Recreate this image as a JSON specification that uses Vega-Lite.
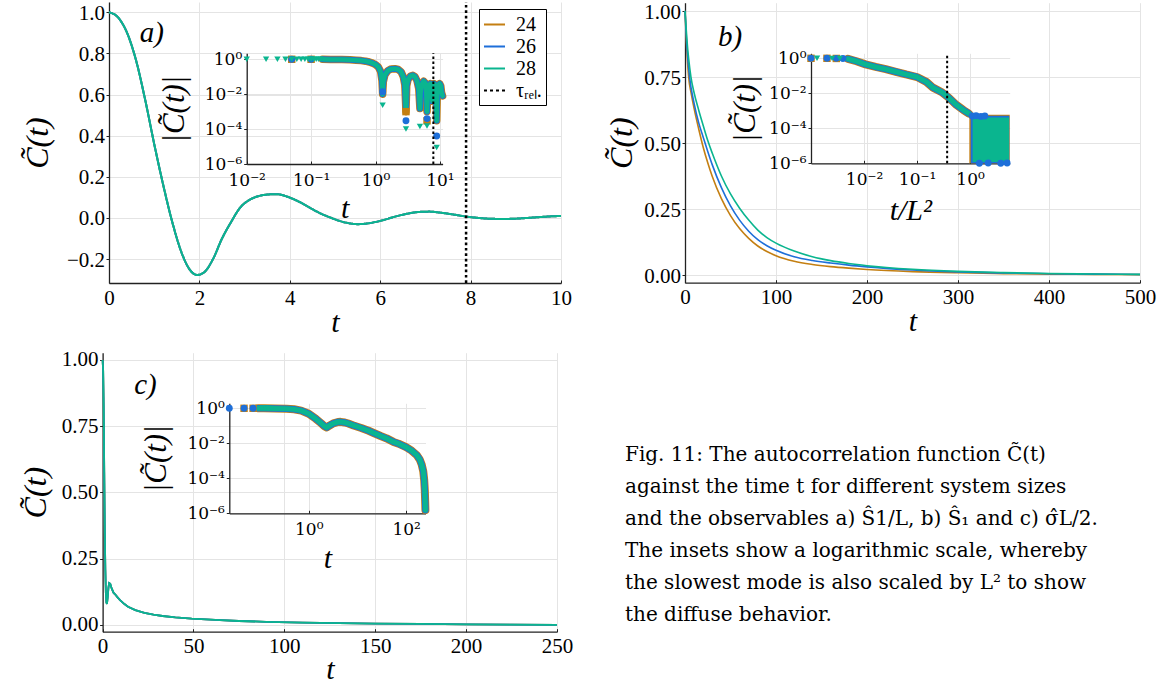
{
"$schema":"https://vega.github.io/schema/vega-lite/v6.json",
"width":1161,"height":691,"padding":0,"autosize":"none","background":"white",
"config":{"view":{"stroke":null},
 "axis":{"labelFont":"Liberation Serif","labelFontSize":21,"labelColor":"#000","titleFont":"Liberation Serif","titleFontStyle":"italic","titleFontWeight":"normal","titleColor":"#000","domainColor":"#222","domainWidth":1.3,"tickColor":"#222","tickSize":3,"gridColor":"#e4e4e4","gridWidth":1,"labelPadding":1.5,"labelFlush":false,"labelOverlap":false}},
"resolve":{"scale":{"x":"independent","y":"independent"},"axis":{"x":"independent","y":"independent"}},
"datasets":{
"a_main":[
{"s":"24","t":0,"v":1},{"s":"24","t":0.2,"v":0.975},{"s":"24","t":0.4,"v":0.9},{"s":"24","t":0.6,"v":0.765},{"s":"24","t":0.8,"v":0.575},{"s":"24","t":1,"v":0.36},{"s":"24","t":1.2,"v":0.16},{"s":"24","t":1.4,"v":-0.02},{"s":"24","t":1.6,"v":-0.165},{"s":"24","t":1.8,"v":-0.255},{"s":"24","t":1.95,"v":-0.277},{"s":"24","t":2.1,"v":-0.265},{"s":"24","t":2.3,"v":-0.2},{"s":"24","t":2.5,"v":-0.1},{"s":"24","t":2.7,"v":-0.02},{"s":"24","t":2.9,"v":0.05},{"s":"24","t":3.1,"v":0.087},{"s":"24","t":3.3,"v":0.106},{"s":"24","t":3.5,"v":0.114},{"s":"24","t":3.7,"v":0.116},{"s":"24","t":3.9,"v":0.107},{"s":"24","t":4.1,"v":0.09},{"s":"24","t":4.3,"v":0.068},{"s":"24","t":4.5,"v":0.043},{"s":"24","t":4.7,"v":0.02},{"s":"24","t":4.9,"v":0.002},{"s":"24","t":5.1,"v":-0.014},{"s":"24","t":5.3,"v":-0.025},{"s":"24","t":5.5,"v":-0.03},{"s":"24","t":5.7,"v":-0.027},{"s":"24","t":5.9,"v":-0.019},{"s":"24","t":6.1,"v":-0.008},{"s":"24","t":6.3,"v":0.005},{"s":"24","t":6.5,"v":0.016},{"s":"24","t":6.7,"v":0.025},{"s":"24","t":6.9,"v":0.03},{"s":"24","t":7.1,"v":0.031},{"s":"24","t":7.3,"v":0.027},{"s":"24","t":7.5,"v":0.021},{"s":"24","t":7.7,"v":0.014},{"s":"24","t":7.9,"v":0.007},{"s":"24","t":8.1,"v":0.002},{"s":"24","t":8.3,"v":-0.002},{"s":"24","t":8.5,"v":-0.004},{"s":"24","t":8.7,"v":-0.005},{"s":"24","t":8.9,"v":-0.004},{"s":"24","t":9.1,"v":-0.002},{"s":"24","t":9.3,"v":0.001},{"s":"24","t":9.5,"v":0.004},{"s":"24","t":9.7,"v":0.007},{"s":"24","t":10,"v":0.01},
{"s":"26","t":0,"v":1},{"s":"26","t":0.2,"v":0.975},{"s":"26","t":0.4,"v":0.9},{"s":"26","t":0.6,"v":0.765},{"s":"26","t":0.8,"v":0.575},{"s":"26","t":1,"v":0.36},{"s":"26","t":1.2,"v":0.16},{"s":"26","t":1.4,"v":-0.02},{"s":"26","t":1.6,"v":-0.165},{"s":"26","t":1.8,"v":-0.255},{"s":"26","t":1.95,"v":-0.277},{"s":"26","t":2.1,"v":-0.265},{"s":"26","t":2.3,"v":-0.2},{"s":"26","t":2.5,"v":-0.1},{"s":"26","t":2.7,"v":-0.02},{"s":"26","t":2.9,"v":0.05},{"s":"26","t":3.1,"v":0.087},{"s":"26","t":3.3,"v":0.106},{"s":"26","t":3.5,"v":0.114},{"s":"26","t":3.7,"v":0.116},{"s":"26","t":3.9,"v":0.107},{"s":"26","t":4.1,"v":0.09},{"s":"26","t":4.3,"v":0.068},{"s":"26","t":4.5,"v":0.043},{"s":"26","t":4.7,"v":0.02},{"s":"26","t":4.9,"v":0.002},{"s":"26","t":5.1,"v":-0.014},{"s":"26","t":5.3,"v":-0.025},{"s":"26","t":5.5,"v":-0.03},{"s":"26","t":5.7,"v":-0.027},{"s":"26","t":5.9,"v":-0.019},{"s":"26","t":6.1,"v":-0.008},{"s":"26","t":6.3,"v":0.005},{"s":"26","t":6.5,"v":0.016},{"s":"26","t":6.7,"v":0.025},{"s":"26","t":6.9,"v":0.03},{"s":"26","t":7.1,"v":0.031},{"s":"26","t":7.3,"v":0.027},{"s":"26","t":7.5,"v":0.021},{"s":"26","t":7.7,"v":0.014},{"s":"26","t":7.9,"v":0.007},{"s":"26","t":8.1,"v":0.002},{"s":"26","t":8.3,"v":-0.002},{"s":"26","t":8.5,"v":-0.004},{"s":"26","t":8.7,"v":-0.005},{"s":"26","t":8.9,"v":-0.004},{"s":"26","t":9.1,"v":-0.002},{"s":"26","t":9.3,"v":0.001},{"s":"26","t":9.5,"v":0.004},{"s":"26","t":9.7,"v":0.007},{"s":"26","t":10,"v":0.01},
{"s":"28","t":0,"v":1},{"s":"28","t":0.2,"v":0.975},{"s":"28","t":0.4,"v":0.9},{"s":"28","t":0.6,"v":0.765},{"s":"28","t":0.8,"v":0.575},{"s":"28","t":1,"v":0.36},{"s":"28","t":1.2,"v":0.16},{"s":"28","t":1.4,"v":-0.02},{"s":"28","t":1.6,"v":-0.165},{"s":"28","t":1.8,"v":-0.255},{"s":"28","t":1.95,"v":-0.277},{"s":"28","t":2.1,"v":-0.265},{"s":"28","t":2.3,"v":-0.2},{"s":"28","t":2.5,"v":-0.1},{"s":"28","t":2.7,"v":-0.02},{"s":"28","t":2.9,"v":0.05},{"s":"28","t":3.1,"v":0.087},{"s":"28","t":3.3,"v":0.106},{"s":"28","t":3.5,"v":0.114},{"s":"28","t":3.7,"v":0.116},{"s":"28","t":3.9,"v":0.107},{"s":"28","t":4.1,"v":0.09},{"s":"28","t":4.3,"v":0.068},{"s":"28","t":4.5,"v":0.043},{"s":"28","t":4.7,"v":0.02},{"s":"28","t":4.9,"v":0.002},{"s":"28","t":5.1,"v":-0.014},{"s":"28","t":5.3,"v":-0.025},{"s":"28","t":5.5,"v":-0.03},{"s":"28","t":5.7,"v":-0.027},{"s":"28","t":5.9,"v":-0.019},{"s":"28","t":6.1,"v":-0.008},{"s":"28","t":6.3,"v":0.005},{"s":"28","t":6.5,"v":0.016},{"s":"28","t":6.7,"v":0.025},{"s":"28","t":6.9,"v":0.03},{"s":"28","t":7.1,"v":0.031},{"s":"28","t":7.3,"v":0.027},{"s":"28","t":7.5,"v":0.021},{"s":"28","t":7.7,"v":0.014},{"s":"28","t":7.9,"v":0.007},{"s":"28","t":8.1,"v":0.002},{"s":"28","t":8.3,"v":-0.002},{"s":"28","t":8.5,"v":-0.004},{"s":"28","t":8.7,"v":-0.005},{"s":"28","t":8.9,"v":-0.004},{"s":"28","t":9.1,"v":-0.002},{"s":"28","t":9.3,"v":0.001},{"s":"28","t":9.5,"v":0.004},{"s":"28","t":9.7,"v":0.007},{"s":"28","t":10,"v":0.01}
],
"a_tau":[{"tau":7.9}],
"b_tau":[{"tau":0.37}],
"lab_a":[{"lab":"a)"}],"lab_b":[{"lab":"b)"}],"lab_c":[{"lab":"c)"}],
"b_main":[
{"s":"24","t":0,"v":1},{"s":"24","t":2,"v":0.852},{"s":"24","t":4,"v":0.75},{"s":"24","t":7,"v":0.684},{"s":"24","t":10,"v":0.631},{"s":"24","t":15,"v":0.554},{"s":"24","t":20,"v":0.484},{"s":"24","t":25,"v":0.425},{"s":"24","t":30,"v":0.373},{"s":"24","t":40,"v":0.289},{"s":"24","t":50,"v":0.225},{"s":"24","t":60,"v":0.176},{"s":"24","t":70,"v":0.139},{"s":"24","t":80,"v":0.11},{"s":"24","t":90,"v":0.089},{"s":"24","t":100,"v":0.073},{"s":"24","t":120,"v":0.052},{"s":"24","t":140,"v":0.04},{"s":"24","t":160,"v":0.032},{"s":"24","t":180,"v":0.026},{"s":"24","t":200,"v":0.021},{"s":"24","t":250,"v":0.013},{"s":"24","t":300,"v":0.0085},{"s":"24","t":350,"v":0.0055},{"s":"24","t":400,"v":0.0036},{"s":"24","t":450,"v":0.0024},{"s":"24","t":500,"v":0.0016},
{"s":"26","t":0,"v":1},{"s":"26","t":2,"v":0.869},{"s":"26","t":5,"v":0.75},{"s":"26","t":10,"v":0.65},{"s":"26","t":15,"v":0.577},{"s":"26","t":20,"v":0.522},{"s":"26","t":25,"v":0.468},{"s":"26","t":30,"v":0.417},{"s":"26","t":40,"v":0.331},{"s":"26","t":50,"v":0.262},{"s":"26","t":60,"v":0.208},{"s":"26","t":70,"v":0.166},{"s":"26","t":80,"v":0.134},{"s":"26","t":90,"v":0.111},{"s":"26","t":100,"v":0.0935},{"s":"26","t":120,"v":0.069},{"s":"26","t":140,"v":0.055},{"s":"26","t":160,"v":0.0455},{"s":"26","t":180,"v":0.0375},{"s":"26","t":200,"v":0.031},{"s":"26","t":250,"v":0.019},{"s":"26","t":300,"v":0.012},{"s":"26","t":350,"v":0.0078},{"s":"26","t":400,"v":0.0051},{"s":"26","t":450,"v":0.0034},{"s":"26","t":500,"v":0.0023},
{"s":"28","t":0,"v":1},{"s":"28","t":2,"v":0.896},{"s":"28","t":6.5,"v":0.75},{"s":"28","t":10,"v":0.69},{"s":"28","t":15,"v":0.625},{"s":"28","t":20,"v":0.566},{"s":"28","t":25,"v":0.509},{"s":"28","t":30,"v":0.461},{"s":"28","t":40,"v":0.375},{"s":"28","t":50,"v":0.307},{"s":"28","t":60,"v":0.253},{"s":"28","t":70,"v":0.208},{"s":"28","t":80,"v":0.17},{"s":"28","t":90,"v":0.142},{"s":"28","t":100,"v":0.121},{"s":"28","t":120,"v":0.0907},{"s":"28","t":140,"v":0.0693},{"s":"28","t":160,"v":0.0545},{"s":"28","t":180,"v":0.0437},{"s":"28","t":200,"v":0.0354},{"s":"28","t":250,"v":0.0219},{"s":"28","t":300,"v":0.014},{"s":"28","t":350,"v":0.0091},{"s":"28","t":400,"v":0.006},{"s":"28","t":450,"v":0.004},{"s":"28","t":500,"v":0.0027}
],
"c_main":[
{"s":"24","t":0,"v":1},{"s":"24","t":0.3,"v":0.96},{"s":"24","t":0.6,"v":0.82},{"s":"24","t":0.9,"v":0.58},{"s":"24","t":1.2,"v":0.36},{"s":"24","t":1.5,"v":0.21},{"s":"24","t":1.8,"v":0.12},{"s":"24","t":2.1,"v":0.085},{"s":"24","t":2.4,"v":0.08},{"s":"24","t":2.8,"v":0.105},{"s":"24","t":3.2,"v":0.14},{"s":"24","t":3.6,"v":0.158},{"s":"24","t":4.2,"v":0.155},{"s":"24","t":5,"v":0.138},{"s":"24","t":6,"v":0.122},{"s":"24","t":7,"v":0.115},{"s":"24","t":8,"v":0.106},{"s":"24","t":9.6,"v":0.094},{"s":"24","t":12,"v":0.079},{"s":"24","t":14,"v":0.069},{"s":"24","t":18,"v":0.056},{"s":"24","t":23,"v":0.046},{"s":"24","t":28,"v":0.039},{"s":"24","t":33,"v":0.034},{"s":"24","t":40,"v":0.029},{"s":"24","t":49,"v":0.024},{"s":"24","t":62,"v":0.019},{"s":"24","t":75,"v":0.015},{"s":"24","t":90,"v":0.012},{"s":"24","t":110,"v":0.009},{"s":"24","t":130,"v":0.007},{"s":"24","t":150,"v":0.0055},{"s":"24","t":175,"v":0.004},{"s":"24","t":200,"v":0.0025},{"s":"24","t":225,"v":0.0012},{"s":"24","t":250,"v":0.0002},
{"s":"26","t":0,"v":1},{"s":"26","t":0.3,"v":0.96},{"s":"26","t":0.6,"v":0.82},{"s":"26","t":0.9,"v":0.58},{"s":"26","t":1.2,"v":0.36},{"s":"26","t":1.5,"v":0.21},{"s":"26","t":1.8,"v":0.12},{"s":"26","t":2.1,"v":0.085},{"s":"26","t":2.4,"v":0.08},{"s":"26","t":2.8,"v":0.105},{"s":"26","t":3.2,"v":0.14},{"s":"26","t":3.6,"v":0.158},{"s":"26","t":4.2,"v":0.155},{"s":"26","t":5,"v":0.138},{"s":"26","t":6,"v":0.122},{"s":"26","t":7,"v":0.115},{"s":"26","t":8,"v":0.106},{"s":"26","t":9.6,"v":0.094},{"s":"26","t":12,"v":0.079},{"s":"26","t":14,"v":0.069},{"s":"26","t":18,"v":0.056},{"s":"26","t":23,"v":0.046},{"s":"26","t":28,"v":0.039},{"s":"26","t":33,"v":0.034},{"s":"26","t":40,"v":0.029},{"s":"26","t":49,"v":0.024},{"s":"26","t":62,"v":0.019},{"s":"26","t":75,"v":0.015},{"s":"26","t":90,"v":0.012},{"s":"26","t":110,"v":0.009},{"s":"26","t":130,"v":0.007},{"s":"26","t":150,"v":0.0055},{"s":"26","t":175,"v":0.004},{"s":"26","t":200,"v":0.0025},{"s":"26","t":225,"v":0.0012},{"s":"26","t":250,"v":0.0002},
{"s":"28","t":0,"v":1},{"s":"28","t":0.3,"v":0.96},{"s":"28","t":0.6,"v":0.82},{"s":"28","t":0.9,"v":0.58},{"s":"28","t":1.2,"v":0.36},{"s":"28","t":1.5,"v":0.21},{"s":"28","t":1.8,"v":0.12},{"s":"28","t":2.1,"v":0.085},{"s":"28","t":2.4,"v":0.08},{"s":"28","t":2.8,"v":0.105},{"s":"28","t":3.2,"v":0.14},{"s":"28","t":3.6,"v":0.158},{"s":"28","t":4.2,"v":0.155},{"s":"28","t":5,"v":0.138},{"s":"28","t":6,"v":0.122},{"s":"28","t":7,"v":0.115},{"s":"28","t":8,"v":0.106},{"s":"28","t":9.6,"v":0.094},{"s":"28","t":12,"v":0.079},{"s":"28","t":14,"v":0.069},{"s":"28","t":18,"v":0.056},{"s":"28","t":23,"v":0.046},{"s":"28","t":28,"v":0.039},{"s":"28","t":33,"v":0.034},{"s":"28","t":40,"v":0.029},{"s":"28","t":49,"v":0.024},{"s":"28","t":62,"v":0.019},{"s":"28","t":75,"v":0.015},{"s":"28","t":90,"v":0.012},{"s":"28","t":110,"v":0.009},{"s":"28","t":130,"v":0.007},{"s":"28","t":150,"v":0.0055},{"s":"28","t":175,"v":0.004},{"s":"28","t":200,"v":0.0025},{"s":"28","t":225,"v":0.0012},{"s":"28","t":250,"v":0.0002}
],
"a_band":[{"t":0.15,"v":0.99},{"t":0.2,"v":0.985},{"t":0.3,"v":0.96},{"t":0.4,"v":0.93},{"t":0.5,"v":0.89},{"t":0.6,"v":0.84},{"t":0.7,"v":0.78},{"t":0.8,"v":0.7},{"t":0.9,"v":0.6},{"t":1.0,"v":0.5},{"t":1.1,"v":0.37},{"t":1.2,"v":0.2},{"t":1.26,"v":0.06},{"t":1.29,"v":0.01},{"t":1.32,"v":0.05},{"t":1.4,"v":0.13},{"t":1.55,"v":0.22},{"t":1.75,"v":0.28},{"t":2.0,"v":0.29},{"t":2.25,"v":0.26},{"t":2.5,"v":0.19},{"t":2.7,"v":0.1},{"t":2.85,"v":0.035},{"t":2.97,"v":0.001},{"t":3.05,"v":0.03},{"t":3.2,"v":0.07},{"t":3.5,"v":0.11},{"t":3.8,"v":0.12},{"t":4.1,"v":0.1},{"t":4.4,"v":0.06},{"t":4.7,"v":0.02},{"t":4.89,"v":0.0015},{"t":5.0,"v":0.012},{"t":5.3,"v":0.04},{"t":5.6,"v":0.055},{"t":5.9,"v":0.045},{"t":6.1,"v":0.02},{"t":6.3,"v":0.001},{"t":6.5,"v":0.015},{"t":6.8,"v":0.035},{"t":7.1,"v":0.04},{"t":7.4,"v":0.03},{"t":7.6,"v":0.004},{"t":7.8,"v":0.03},{"t":8.1,"v":0.04},{"t":8.4,"v":0.03},{"t":8.7,"v":0.008},{"t":8.9,"v":0.0003},{"t":9.1,"v":0.01},{"t":9.5,"v":0.035},{"t":9.9,"v":0.04},{"t":10.3,"v":0.03},{"t":10.6,"v":0.012},{"t":11.0,"v":0.008}],
"a_pts":[{"s":"24","t":0.05,"v":1},{"s":"24","t":0.1,"v":0.995},{"s":"24","t":2.97,"v":0.001},{"s":"24","t":6.3,"v":0.0003},
{"s":"26","t":0.05,"v":1},{"s":"26","t":0.1,"v":0.995},{"s":"26","t":1.29,"v":0.014},{"s":"26","t":2.97,"v":0.0003},{"s":"26","t":6.3,"v":0.0004},{"s":"26","t":8.9,"v":0.00004},
{"s":"28","t":0.01,"v":1},{"s":"28","t":0.02,"v":1},{"s":"28","t":0.03,"v":1},{"s":"28","t":0.04,"v":1},{"s":"28","t":0.05,"v":1},{"s":"28","t":0.06,"v":1},{"s":"28","t":0.07,"v":1},{"s":"28","t":0.08,"v":1},{"s":"28","t":0.09,"v":1},{"s":"28","t":0.1,"v":1},{"s":"28","t":0.11,"v":1},{"s":"28","t":0.12,"v":1},{"s":"28","t":0.13,"v":0.99},{"s":"28","t":0.14,"v":0.99},{"s":"28","t":1.29,"v":0.0023},{"s":"28","t":2.97,"v":0.0001},{"s":"28","t":4.89,"v":0.00014},{"s":"28","t":6.3,"v":0.00015},{"s":"28","t":8.9,"v":0.0000087}],
"b_band":[{"t":0.005,"v":0.93},{"t":0.0072,"v":0.68},{"t":0.0107,"v":0.45},{"t":0.0166,"v":0.32},{"t":0.0257,"v":0.24},{"t":0.04,"v":0.17},{"t":0.062,"v":0.12},{"t":0.1,"v":0.085},{"t":0.15,"v":0.045},{"t":0.2,"v":0.021},{"t":0.3,"v":0.011},{"t":0.4,"v":0.0055},{"t":0.55,"v":0.0022},{"t":0.75,"v":0.0011},{"t":0.95,"v":0.0007}],
"b_noise":[{"s":"24","t1":0.97,"t2":5.6,"v1":0.000001,"v2":0.0006},{"s":"26","t1":1.03,"t2":5.5,"v1":0.000001,"v2":0.00052},{"s":"28","t1":1.12,"t2":5.45,"v1":0.0000012,"v2":0.00042}],
"b_pts":[{"s":"24","t":0.001,"v":1},{"s":"24","t":0.002,"v":1},{"s":"24","t":0.003,"v":0.98},
{"s":"26","t":0.001,"v":1},{"s":"26","t":0.002,"v":1},{"s":"26","t":0.003,"v":0.99},{"s":"26","t":0.004,"v":0.98},{"s":"26","t":1.1,"v":0.0005},{"s":"26","t":1.3,"v":0.00052},{"s":"26","t":1.6,"v":0.00048},{"s":"26","t":1.9,"v":0.0005},{"s":"26","t":1.5,"v":0.000001},{"s":"26","t":2.2,"v":0.00000105},{"s":"26","t":3.8,"v":0.000001},{"s":"26","t":5.0,"v":0.00000105},
{"s":"28","t":0.0013,"v":1},{"s":"28","t":0.0025,"v":0.99},{"s":"28","t":0.0035,"v":0.98}],
"c_band":[{"t":0.09,"v":0.995},{"t":0.12,"v":0.99},{"t":0.2,"v":0.975},{"t":0.35,"v":0.94},{"t":0.5,"v":0.88},{"t":0.7,"v":0.74},{"t":1.0,"v":0.49},{"t":1.4,"v":0.25},{"t":1.8,"v":0.14},{"t":2.1,"v":0.095},{"t":2.34,"v":0.08},{"t":2.7,"v":0.105},{"t":3.2,"v":0.138},{"t":4.0,"v":0.165},{"t":4.5,"v":0.168},{"t":5.5,"v":0.155},{"t":6.5,"v":0.135},{"t":8.3,"v":0.105},{"t":12,"v":0.075},{"t":17,"v":0.052},{"t":21,"v":0.04},{"t":30,"v":0.026},{"t":40,"v":0.019},{"t":55,"v":0.012},{"t":70,"v":0.0095},{"t":100,"v":0.006},{"t":130,"v":0.0038},{"t":166,"v":0.0021},{"t":190,"v":0.0012},{"t":209,"v":0.0006},{"t":225,"v":0.00025},{"t":235,"v":0.00008},{"t":242,"v":0.00002},{"t":246,"v":0.000005},{"t":249,"v":0.0000015}],
"c_pts":[{"s":"24","t":0.047,"v":1},{"s":"24","t":0.072,"v":1},{"s":"26","t":0.0234,"v":1},{"s":"26","t":0.047,"v":1},{"s":"26","t":0.072,"v":1},{"s":"28","t":0.11,"v":0.995},{"s":"28","t":0.13,"v":0.993},{"s":"28","t":0.15,"v":0.99},{"s":"28","t":0.17,"v":0.985}],
"caption":[{"line":1,"text":"Fig. 11:  The autocorrelation function C̃(t)"},{"line":2,"text":"against the time t for different system sizes"},{"line":3,"text":"and the observables a) Ŝ1/L, b) Ŝ₁ and c) σ̂L/2."},{"line":4,"text":"The insets show a logarithmic scale, whereby"},{"line":5,"text":"the slowest mode is also scaled by L² to show"},{"line":6,"text":"the diffuse behavior."}]
},
"layer":[
 {"data":{"name":"a_main"},"mark":{"type":"line","strokeWidth":2,"interpolate":"monotone"},
  "encoding":{
   "x":{"field":"t","type":"quantitative","scale":{"domain":[0,10],"range":[109,561],"nice":false,"zero":false},
        "axis":{"orient":"top","offset":-283,"grid":true,"values":[0,2,4,6,8,10],"format":"d","labelBaseline":"top","labelPadding":-7,"title":"t","titleFontSize":30,"titleY":39,"titleBaseline":"middle"}},
   "y":{"field":"v","type":"quantitative","scale":{"domain":[-0.316,1.05],"range":[283,2],"nice":false,"zero":false},
        "axis":{"orient":"left","offset":-109,"grid":true,"values":[-0.2,0,0.2,0.4,0.6,0.8,1.0],"format":".1f","labelOffset":1,"title":"C̃(t)","titleFontSize":32,"titleX":-72,"titleBaseline":"middle"}},
   "color":{"field":"s","type":"nominal","scale":{"domain":["24","26","28","τᵣₑₗ."],"range":["#C47F12","#1E6FD9","#0AB58F","#000000"]},
        "legend":{"orient":"none","legendX":479,"legendY":9,"title":null,"symbolType":"stroke","symbolSize":441,"symbolStrokeWidth":2,"labelFont":"Liberation Serif","labelFontSize":20,"labelColor":"black","strokeColor":"black","fillColor":"white","padding":4,"rowPadding":-1.5,"labelOffset":10}},
   "strokeDash":{"field":"s","type":"nominal","scale":{"domain":["24","26","28","τᵣₑₗ."],"range":[[1,0],[1,0],[1,0],[3,3]]},
        "legend":{"orient":"none","legendX":479,"legendY":9,"title":null,"symbolType":"stroke","symbolSize":441,"symbolStrokeWidth":2,"labelFont":"Liberation Serif","labelFontSize":20,"labelColor":"black","strokeColor":"black","fillColor":"white","padding":4,"rowPadding":-1.5,"labelOffset":10}}
  }},
 {"data":{"name":"a_tau"},"mark":{"type":"rule","color":"black","strokeWidth":2.5,"strokeDash":[2.7,2.7]},
  "encoding":{"x":{"field":"tau","type":"quantitative","scale":{"domain":[0,10],"range":[109,561],"nice":false,"zero":false},"axis":null},
   "y":{"datum":-0.316,"type":"quantitative","scale":{"domain":[-0.316,1.05],"range":[283,2],"nice":false,"zero":false},"axis":null},"y2":{"datum":1.05}}},
 {"data":{"name":"lab_a"},"mark":{"type":"text","font":"Liberation Serif","fontStyle":"italic","fontSize":29,"color":"black"},
  "encoding":{"x":{"datum":0.95,"type":"quantitative","scale":{"domain":[0,10],"range":[109,561],"nice":false,"zero":false},"axis":null},
   "y":{"datum":0.9,"type":"quantitative","scale":{"domain":[-0.316,1.05],"range":[283,2],"nice":false,"zero":false},"axis":null},"text":{"field":"lab"}}},

 {"data":{"name":"a_band"},"mark":{"type":"line","color":"#C47F12","strokeWidth":7.5,"strokeJoin":"round","strokeCap":"round"},
  "encoding":{
   "x":{"field":"t","type":"quantitative","scale":{"type":"log","domain":[0.01,11],"range":[246.7,442.6],"nice":false},
        "axis":{"orient":"top","offset":-164,"grid":true,"values":[0.01,0.1,1,10],"labelExpr":"datum.value < 0.05 ? '10⁻²' : datum.value < 0.5 ? '10⁻¹' : datum.value < 5 ? '10⁰' : '10¹'","labelFont":"DejaVu Serif","labelFontSize":17,"labelBaseline":"top","labelPadding":-11,"title":"t","titleFontSize":30,"titleY":44,"titleBaseline":"middle"}},
   "y":{"field":"v","type":"quantitative","scale":{"type":"log","domain":[0.000001,2.2],"range":[164,53.3],"nice":false},
        "axis":{"orient":"left","offset":-246.7,"grid":true,"values":[0.000001,0.0001,0.01,1],"labelExpr":"datum.value < 0.000005 ? '10⁻⁶' : datum.value < 0.0005 ? '10⁻⁴' : datum.value < 0.05 ? '10⁻²' : '10⁰'","labelFont":"DejaVu Serif","labelFontSize":17,"labelPadding":2,"title":"|C̃(t)|","titleFontSize":31,"titleX":-72,"titleBaseline":"middle"}}}},
 {"data":{"name":"a_band"},"mark":{"type":"line","color":"#1E6FD9","strokeWidth":6,"strokeJoin":"round","strokeCap":"round"},
  "encoding":{"x":{"field":"t","type":"quantitative","scale":{"type":"log","domain":[0.01,11],"range":[246.7,442.6],"nice":false},"axis":null},
   "y":{"field":"v","type":"quantitative","scale":{"type":"log","domain":[0.000001,2.2],"range":[164,53.3],"nice":false},"axis":null}}},
 {"data":{"name":"a_band"},"mark":{"type":"line","color":"#0AB58F","strokeWidth":4.5,"strokeJoin":"round","strokeCap":"round"},
  "encoding":{"x":{"field":"t","type":"quantitative","scale":{"type":"log","domain":[0.01,11],"range":[246.7,442.6],"nice":false},"axis":null},
   "y":{"field":"v","type":"quantitative","scale":{"type":"log","domain":[0.000001,2.2],"range":[164,53.3],"nice":false},"axis":null}}},
 {"data":{"name":"a_pts"},"mark":{"type":"point","filled":true,"opacity":1},
  "encoding":{"x":{"field":"t","type":"quantitative","scale":{"type":"log","domain":[0.01,11],"range":[246.7,442.6],"nice":false},"axis":null},
   "y":{"field":"v","type":"quantitative","scale":{"type":"log","domain":[0.000001,2.2],"range":[164,53.3],"nice":false},"axis":null},
   "color":{"field":"s","type":"nominal","scale":{"domain":["24","26","28","τᵣₑₗ."],"range":["#C47F12","#1E6FD9","#0AB58F","#000000"]},"legend":null},
   "shape":{"field":"s","type":"nominal","scale":{"domain":["24","26","28"],"range":["square","circle","triangle-down"]},"legend":null},
   "size":{"field":"s","type":"ordinal","scale":{"domain":["24","26","28"],"range":[55,40,36]},"legend":null}}},
 {"data":{"name":"a_tau"},"mark":{"type":"rule","color":"black","strokeWidth":2,"strokeDash":[2.5,2.5]},
  "encoding":{"x":{"field":"tau","type":"quantitative","scale":{"type":"log","domain":[0.01,11],"range":[246.7,442.6],"nice":false},"axis":null},
   "y":{"datum":0.000001,"type":"quantitative","scale":{"type":"log","domain":[0.000001,2.2],"range":[164,53.3],"nice":false},"axis":null},"y2":{"datum":2.2}}},

 {"data":{"name":"b_main"},"mark":{"type":"line","strokeWidth":1.6,"interpolate":"monotone"},
  "encoding":{
   "x":{"field":"t","type":"quantitative","scale":{"domain":[0,500],"range":[685,1140],"nice":false,"zero":false},
        "axis":{"orient":"top","offset":-282.7,"grid":true,"values":[0,100,200,300,400,500],"format":"d","labelBaseline":"top","labelPadding":-7,"title":"t","titleFontSize":30,"titleY":39,"titleBaseline":"middle"}},
   "y":{"field":"v","type":"quantitative","scale":{"domain":[-0.029,1.031],"range":[282.7,2.7],"nice":false,"zero":false},
        "axis":{"orient":"left","offset":-685,"grid":true,"values":[0,0.25,0.5,0.75,1],"format":".2f","labelOffset":1.5,"title":"C̃(t)","titleFontSize":32,"titleX":-64,"titleBaseline":"middle"}},
   "color":{"field":"s","type":"nominal","scale":{"domain":["24","26","28","τᵣₑₗ."],"range":["#C47F12","#1E6FD9","#0AB58F","#000000"]},"legend":null}}},
 {"data":{"name":"lab_b"},"mark":{"type":"text","font":"Liberation Serif","fontStyle":"italic","fontSize":29,"color":"black"},
  "encoding":{"x":{"datum":49.5,"type":"quantitative","scale":{"domain":[0,500],"range":[685,1140],"nice":false,"zero":false},"axis":null},
   "y":{"datum":0.9,"type":"quantitative","scale":{"domain":[-0.029,1.031],"range":[282.7,2.7],"nice":false,"zero":false},"axis":null},"text":{"field":"lab"}}},

 {"data":{"name":"b_noise"},"mark":{"type":"rect","opacity":1},
  "encoding":{
   "x":{"field":"t1","type":"quantitative","scale":{"type":"log","domain":[0.001,5.6],"range":[811,1009.7],"nice":false},
        "axis":{"orient":"top","offset":-163.3,"grid":true,"values":[0.01,0.1,1],"labelExpr":"datum.value < 0.05 ? '10⁻²' : datum.value < 0.5 ? '10⁻¹' : '10⁰'","labelFont":"DejaVu Serif","labelFontSize":17,"labelBaseline":"top","labelPadding":-11,"title":"t/L²","titleFontSize":30,"titleY":46.7,"titleBaseline":"middle"}},
   "x2":{"field":"t2"},
   "y":{"field":"v1","type":"quantitative","scale":{"type":"log","domain":[0.000001,1.93],"range":[163.3,53.3],"nice":false},
        "axis":{"orient":"left","offset":-811,"grid":true,"values":[0.000001,0.0001,0.01,1],"labelExpr":"datum.value < 0.000005 ? '10⁻⁶' : datum.value < 0.0005 ? '10⁻⁴' : datum.value < 0.05 ? '10⁻²' : '10⁰'","labelFont":"DejaVu Serif","labelFontSize":17,"labelPadding":2,"title":"|C̃(t)|","titleFontSize":31,"titleX":-66,"titleBaseline":"middle"}},
   "y2":{"field":"v2"},
   "color":{"field":"s","type":"nominal","scale":{"domain":["24","26","28","τᵣₑₗ."],"range":["#C47F12","#1E6FD9","#0AB58F","#000000"]},"legend":null}}},
 {"data":{"name":"b_band"},"mark":{"type":"line","color":"#C47F12","strokeWidth":8,"strokeJoin":"round","strokeCap":"round"},
  "encoding":{"x":{"field":"t","type":"quantitative","scale":{"type":"log","domain":[0.001,5.6],"range":[811,1009.7],"nice":false},"axis":null},
   "y":{"field":"v","type":"quantitative","scale":{"type":"log","domain":[0.000001,1.93],"range":[163.3,53.3],"nice":false},"axis":null}}},
 {"data":{"name":"b_band"},"mark":{"type":"line","color":"#1E6FD9","strokeWidth":6.5,"strokeJoin":"round","strokeCap":"round"},
  "encoding":{"x":{"field":"t","type":"quantitative","scale":{"type":"log","domain":[0.001,5.6],"range":[811,1009.7],"nice":false},"axis":null},
   "y":{"field":"v","type":"quantitative","scale":{"type":"log","domain":[0.000001,1.93],"range":[163.3,53.3],"nice":false},"axis":null}}},
 {"data":{"name":"b_band"},"mark":{"type":"line","color":"#0AB58F","strokeWidth":5,"strokeJoin":"round","strokeCap":"round"},
  "encoding":{"x":{"field":"t","type":"quantitative","scale":{"type":"log","domain":[0.001,5.6],"range":[811,1009.7],"nice":false},"axis":null},
   "y":{"field":"v","type":"quantitative","scale":{"type":"log","domain":[0.000001,1.93],"range":[163.3,53.3],"nice":false},"axis":null}}},
 {"data":{"name":"b_pts"},"mark":{"type":"point","filled":true,"opacity":1},
  "encoding":{"x":{"field":"t","type":"quantitative","scale":{"type":"log","domain":[0.001,5.6],"range":[811,1009.7],"nice":false},"axis":null},
   "y":{"field":"v","type":"quantitative","scale":{"type":"log","domain":[0.000001,1.93],"range":[163.3,53.3],"nice":false},"axis":null},
   "color":{"field":"s","type":"nominal","scale":{"domain":["24","26","28","τᵣₑₗ."],"range":["#C47F12","#1E6FD9","#0AB58F","#000000"]},"legend":null},
   "shape":{"field":"s","type":"nominal","scale":{"domain":["24","26","28"],"range":["square","circle","triangle-down"]},"legend":null},
   "size":{"field":"s","type":"ordinal","scale":{"domain":["24","26","28"],"range":[55,40,36]},"legend":null}}},
 {"data":{"name":"b_tau"},"mark":{"type":"rule","color":"black","strokeWidth":2,"strokeDash":[2.5,2.5]},
  "encoding":{"x":{"field":"tau","type":"quantitative","scale":{"type":"log","domain":[0.001,5.6],"range":[811,1009.7],"nice":false},"axis":null},
   "y":{"datum":0.000001,"type":"quantitative","scale":{"type":"log","domain":[0.000001,1.93],"range":[163.3,53.3],"nice":false},"axis":null},"y2":{"datum":1.93}}},

 {"data":{"name":"c_main"},"mark":{"type":"line","strokeWidth":1.8},
  "encoding":{
   "x":{"field":"t","type":"quantitative","scale":{"domain":[0,250],"range":[102.6,557],"nice":false,"zero":false},
        "axis":{"orient":"top","offset":-631.7,"grid":true,"values":[0,50,100,150,200,250],"format":"d","labelBaseline":"top","labelPadding":-7,"title":"t","titleFontSize":30,"titleY":38,"titleBaseline":"middle"}},
   "y":{"field":"v","type":"quantitative","scale":{"domain":[-0.0253,1.0275],"range":[631.7,352.7],"nice":false,"zero":false},
        "axis":{"orient":"left","offset":-102.6,"grid":true,"values":[0,0.25,0.5,0.75,1],"format":".2f","title":"C̃(t)","titleFontSize":32,"titleX":-67,"titleBaseline":"middle"}},
   "color":{"field":"s","type":"nominal","scale":{"domain":["24","26","28","τᵣₑₗ."],"range":["#C47F12","#1E6FD9","#0AB58F","#000000"]},"legend":null}}},
 {"data":{"name":"lab_c"},"mark":{"type":"text","font":"Liberation Serif","fontStyle":"italic","fontSize":29,"color":"black"},
  "encoding":{"x":{"datum":23.6,"type":"quantitative","scale":{"domain":[0,250],"range":[102.6,557],"nice":false,"zero":false},"axis":null},
   "y":{"datum":0.906,"type":"quantitative","scale":{"domain":[-0.0253,1.0275],"range":[631.7,352.7],"nice":false,"zero":false},"axis":null},"text":{"field":"lab"}}},

 {"data":{"name":"c_band"},"mark":{"type":"line","color":"#C47F12","strokeWidth":8,"strokeJoin":"round","strokeCap":"round"},
  "encoding":{
   "x":{"field":"t","type":"quantitative","scale":{"type":"log","domain":[0.0234,250],"range":[229.3,425.5],"nice":false},
        "axis":{"orient":"top","offset":-513.3,"grid":true,"values":[1,100],"labelExpr":"datum.value < 5 ? '10⁰' : '10²'","labelFont":"DejaVu Serif","labelFontSize":17,"labelBaseline":"top","labelPadding":-11,"title":"t","titleFontSize":30,"titleY":44.7,"titleBaseline":"middle"}},
   "y":{"field":"v","type":"quantitative","scale":{"type":"log","domain":[0.000001,1.93],"range":[513.3,403.3],"nice":false},
        "axis":{"orient":"left","offset":-229.3,"grid":true,"values":[0.000001,0.0001,0.01,1],"labelExpr":"datum.value < 0.000005 ? '10⁻⁶' : datum.value < 0.0005 ? '10⁻⁴' : datum.value < 0.05 ? '10⁻²' : '10⁰'","labelFont":"DejaVu Serif","labelFontSize":17,"labelPadding":2,"title":"|C̃(t)|","titleFontSize":31,"titleX":-72.6,"titleBaseline":"middle"}}}},
 {"data":{"name":"c_band"},"mark":{"type":"line","color":"#1E6FD9","strokeWidth":6.5,"strokeJoin":"round","strokeCap":"round"},
  "encoding":{"x":{"field":"t","type":"quantitative","scale":{"type":"log","domain":[0.0234,250],"range":[229.3,425.5],"nice":false},"axis":null},
   "y":{"field":"v","type":"quantitative","scale":{"type":"log","domain":[0.000001,1.93],"range":[513.3,403.3],"nice":false},"axis":null}}},
 {"data":{"name":"c_band"},"mark":{"type":"line","color":"#0AB58F","strokeWidth":5,"strokeJoin":"round","strokeCap":"round"},
  "encoding":{"x":{"field":"t","type":"quantitative","scale":{"type":"log","domain":[0.0234,250],"range":[229.3,425.5],"nice":false},"axis":null},
   "y":{"field":"v","type":"quantitative","scale":{"type":"log","domain":[0.000001,1.93],"range":[513.3,403.3],"nice":false},"axis":null}}},
 {"data":{"name":"c_pts"},"mark":{"type":"point","filled":true,"opacity":1},
  "encoding":{"x":{"field":"t","type":"quantitative","scale":{"type":"log","domain":[0.0234,250],"range":[229.3,425.5],"nice":false},"axis":null},
   "y":{"field":"v","type":"quantitative","scale":{"type":"log","domain":[0.000001,1.93],"range":[513.3,403.3],"nice":false},"axis":null},
   "color":{"field":"s","type":"nominal","scale":{"domain":["24","26","28","τᵣₑₗ."],"range":["#C47F12","#1E6FD9","#0AB58F","#000000"]},"legend":null},
   "shape":{"field":"s","type":"nominal","scale":{"domain":["24","26","28"],"range":["square","circle","triangle-down"]},"legend":null},
   "size":{"field":"s","type":"ordinal","scale":{"domain":["24","26","28"],"range":[55,40,36]},"legend":null}}},

 {"data":{"name":"caption"},"mark":{"type":"text","align":"left","baseline":"middle","font":"DejaVu Serif","fontSize":20,"color":"black"},
  "encoding":{"x":{"datum":0,"type":"quantitative","scale":{"domain":[0,1],"range":[625,1150]},"axis":null},
   "y":{"field":"line","type":"quantitative","scale":{"domain":[1,6],"range":[455,615]},"axis":null},
   "text":{"field":"text"}}}
]
}
